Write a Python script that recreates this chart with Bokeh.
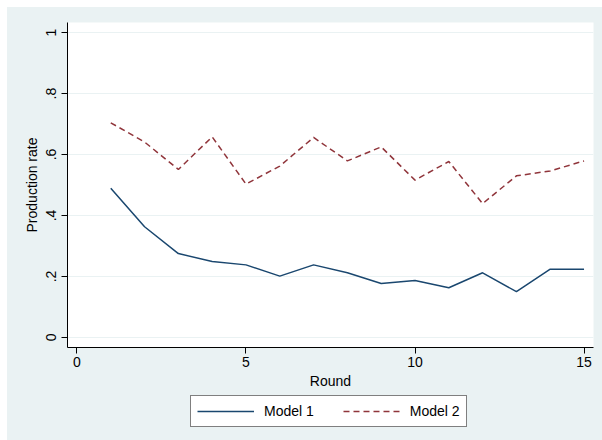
from bokeh.plotting import figure
from bokeh.layouts import column
from bokeh.models import Range1d, FixedTicker, Legend, LegendItem
from bokeh.embed import file_html
from bokeh.resources import INLINE

rounds = list(range(1, 16))
model1 = [0.489, 0.363, 0.275, 0.249, 0.238, 0.201, 0.238, 0.212,
          0.177, 0.187, 0.163, 0.212, 0.150, 0.224, 0.224]
model2 = [0.704, 0.641, 0.551, 0.658, 0.503, 0.562, 0.656, 0.579,
          0.625, 0.516, 0.577, 0.439, 0.530, 0.546, 0.579]
series_names = ["Model 1", "Model 2"]
x_ticks = [0, 5, 10, 15]
y_ticks = [0, 0.2, 0.4, 0.6, 0.8, 1]
y_tick_labels = ["0", ".2", ".4", ".6", ".8", "1"]

FONT = "Liberation Sans"
BG = "#EAF2F3"
NAVY = "#1A476F"
MAROON = "#90353B"
LINE1 = dict(line_color=NAVY, line_width=1.5)
LINE2 = dict(line_color=MAROON, line_width=1.5, line_dash="6 4")

# ---- main plot ----
p = figure(width=595, height=385, output_backend="svg", toolbar_location=None,
           x_range=Range1d(-0.28, 15.28), y_range=Range1d(-0.033, 1.033),
           min_border_left=60, min_border_right=9, min_border_top=15,
           min_border_bottom=45)
p.border_fill_color = BG
p.background_fill_color = "white"
p.outline_line_color = None

p.line(rounds, model1, **LINE1)
p.line(rounds, model2, **LINE2)

p.xaxis.ticker = FixedTicker(ticks=x_ticks)
p.yaxis.ticker = FixedTicker(ticks=y_ticks)
p.yaxis.major_label_overrides = dict(zip(y_ticks, y_tick_labels))
p.yaxis.major_label_orientation = "vertical"
for ax in (p.xaxis[0], p.yaxis[0]):
    ax.axis_line_color = "black"
    ax.axis_line_width = 1
    ax.major_tick_line_color = "black"
    ax.major_tick_in = 0
    ax.major_tick_out = 6
    ax.minor_tick_line_color = None
    ax.major_label_text_font = FONT
    ax.major_label_text_font_size = "14px"
    ax.major_label_text_color = "black"
    ax.axis_label_text_font = FONT
    ax.axis_label_text_font_size = "14px"
    ax.axis_label_text_font_style = "normal"
    ax.axis_label_text_color = "black"
p.xaxis.axis_label = "Round"
p.yaxis.axis_label = "Production rate"
p.xaxis.major_label_standoff = 3
p.yaxis.major_label_standoff = 5
p.xaxis.axis_label_standoff = 3
p.yaxis.axis_label_standoff = 4

p.xgrid.grid_line_color = None
p.ygrid.grid_line_color = BG
p.ygrid.grid_line_width = 1

# ---- legend strip (same series, drawn off-view; only the legend shows) ----
pl = figure(width=595, height=48, output_backend="svg", toolbar_location=None,
            x_range=Range1d(0, 1), y_range=Range1d(10, 11),
            min_border=0, x_axis_type=None, y_axis_type=None)
pl.border_fill_color = BG
pl.background_fill_color = BG
pl.outline_line_color = None
pl.grid.visible = False
l1 = pl.line(rounds, model1, **LINE1)
l2 = pl.line(rounds, model2, **LINE2)

legend = Legend(items=[LegendItem(label=series_names[0], renderers=[l1]),
                       LegendItem(label=series_names[1], renderers=[l2])],
                location=(123, 13), orientation="horizontal")
legend.border_line_color = "black"
legend.border_line_width = 1
legend.background_fill_color = "white"
legend.background_fill_alpha = 1
legend.label_text_font = FONT
legend.label_text_font_size = "14px"
legend.label_text_color = "black"
legend.glyph_width = 57
legend.glyph_height = 18
legend.label_height = 18
legend.label_standoff = 10
legend.spacing = 29
legend.padding = 6
legend.margin = 0
pl.add_layout(legend, "center")

layout = column(p, pl, spacing=0)
layout.margin = (7, 0, 0, 7)
layout.styles = {"background-color": BG}

open("out.html", "w").write(file_html(layout, INLINE))
